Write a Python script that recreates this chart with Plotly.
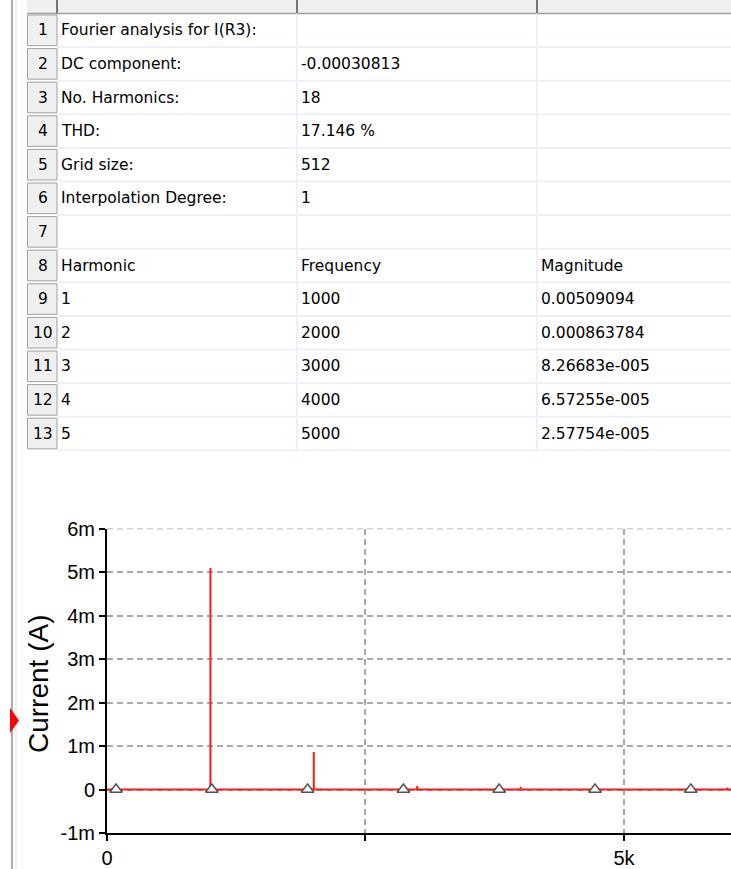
import plotly.graph_objects as go

# ---- Fourier analysis results -------------------------------------------
summary_labels = [
    "Fourier analysis for I(R3):",
    "DC component:",
    "No. Harmonics:",
    "THD:",
    "Grid size:",
    "Interpolation Degree:",
]
summary_values = ["", "-0.00030813", "18", "17.146 %", "512", "1"]
column_titles = ["Harmonic", "Frequency", "Magnitude"]

harmonics = [1, 2, 3, 4, 5]
frequencies = [1000, 2000, 3000, 4000, 5000]
magnitudes = [0.00509094, 0.000863784, 8.26683e-05, 6.57255e-05, 2.57754e-05]

# next harmonic, just at the right edge of the spectrum view
extra_frequencies = [6000]
extra_magnitudes = [4.5e-05]

# trace marker positions along the spectrum (Hz)
marker_freqs = [87, 1014, 1940, 2867, 3793, 4720, 5646]

y_tickvals = [-1e-3, 0, 1e-3, 2e-3, 3e-3, 4e-3, 5e-3, 6e-3]
y_ticktext = ["-1m", "0", "1m", "2m", "3m", "4m", "5m", "6m"]
x_tickvals = [0, 2500, 5000]
x_ticktext = ["0", "", "5k"]
y_title = "Current (A)"

X_MAX = 6035
Y_MIN, Y_MAX = -1e-3, 6e-3

W, H = 731, 869
GRID_COLOR = "#a9a9a9"
GRID_DASH = "6px,4px"
GRID_WIDTH = 1.5


def fx(px):
    return px / W


def fy(py):
    return 1 - py / H


def fmt_mag(v):
    s = f"{v:.6g}"
    if "e" in s:
        mant, exp = s.split("e")
        sign, digits = exp[0], exp[1:].lstrip("0")
        s = f"{mant}e{sign}{digits.zfill(3)}"
    return s


# grid rows: summary, blank, column titles, harmonic rows
rows = [(lab, val, "") for lab, val in zip(summary_labels, summary_values)]
rows.append(("", "", ""))
rows.append(tuple(column_titles))
for h, f, m in zip(harmonics, frequencies, magnitudes):
    rows.append((str(h), str(f), fmt_mag(m)))

# ---- spectrum line: baseline with a vertical line at each harmonic -------
spec_x, spec_y = [0], [0]
for f, m in zip(frequencies + extra_frequencies, magnitudes + extra_magnitudes):
    spec_x += [f, f, f]
    spec_y += [0, m, 0]
spec_x.append(X_MAX + 200)
spec_y.append(0)

fig = go.Figure()
fig.add_trace(go.Scatter(
    x=spec_x, y=spec_y, mode="lines",
    line=dict(color="#ff1a1a", width=2),
    hoverinfo="skip", showlegend=False,
))
fig.add_trace(go.Scatter(
    x=marker_freqs, y=[0] * len(marker_freqs), mode="markers",
    marker=dict(symbol="triangle-up", size=11, color="white",
                line=dict(color="#505050", width=1.4)),
    hoverinfo="skip", showlegend=False,
))

# ---- spreadsheet grid ----------------------------------------------------
HEADER_H = 13.5
ROW_H = 33.6
COL_X = [27, 57, 297, 537, W]
table_bottom = HEADER_H + ROW_H * len(rows)

shapes = []
annotations = []


def line(x0, y0, x1, y1, color, width):
    shapes.append(dict(type="line", xref="paper", yref="paper",
                       x0=fx(x0), y0=fy(y0), x1=fx(x1), y1=fy(y1),
                       line=dict(color=color, width=width)))


def rect(x0, y0, x1, y1, fill, color=None, width=0):
    shapes.append(dict(type="rect", xref="paper", yref="paper",
                       x0=fx(x0), y0=fy(y0), x1=fx(x1), y1=fy(y1),
                       fillcolor=fill,
                       line=dict(color=color or fill, width=width)))


# window frame on the left
line(12, 0, 12, H, "#ababab", 2)
line(16, 0, 16, H, "#e2e2e2", 1)

# column header strip
rect(COL_X[0], 0, W, HEADER_H, "#f0f0f0")
line(COL_X[0], HEADER_H, W, HEADER_H, "#a0a0a0", 1.5)
for cx in COL_X[1:4]:
    line(cx, 0, cx, HEADER_H, "#767676", 2)

# cell grid
for cx in COL_X[2:4]:
    line(cx, HEADER_H, cx, table_bottom, "#ecf0f7", 2)
for i in range(len(rows)):
    top = HEADER_H + i * ROW_H
    bottom = top + ROW_H
    line(COL_X[1], bottom, W, bottom, "#ecf0f7", 2)
    rect(COL_X[0] + 0.5, top + 1.5, COL_X[1], bottom - 1.5,
         "#f0f0f0", "#a0a0a0", 1)

table_font = dict(family="DejaVu Sans", size=15.5, color="#000000")
for i, row in enumerate(rows):
    yc = fy(HEADER_H + (i + 0.5) * ROW_H)
    annotations.append(dict(
        text=str(i + 1), x=fx((COL_X[0] + COL_X[1]) / 2 + 0.5), y=yc,
        xref="paper", yref="paper", xanchor="center", yanchor="middle",
        showarrow=False, font=table_font))
    for j, txt in enumerate(row):
        if not txt:
            continue
        annotations.append(dict(
            text=txt, x=fx(COL_X[j + 1] + 2), y=yc,
            xref="paper", yref="paper", xanchor="left", yanchor="middle",
            showarrow=False, font=table_font))

# y-axis title
annotations.append(dict(
    text=y_title, x=fx(38), y=fy(684), xref="paper", yref="paper",
    xanchor="center", yanchor="middle", textangle=-90, showarrow=False,
    font=dict(family="Liberation Sans", size=28, color="#000000")))

# selected-trace pointer
shapes.append(dict(
    type="path", xref="paper", yref="paper",
    path=f"M{fx(10)},{fy(708)} L{fx(19)},{fy(720.5)} L{fx(10)},{fy(733)} Z",
    fillcolor="#ff0000", line=dict(color="#ff0000", width=0)))

# dashed grid line along the top of the plot (at Y_MAX)
shapes.append(dict(
    type="line", xref="x domain", yref="y", x0=0, x1=1, y0=Y_MAX, y1=Y_MAX,
    line=dict(color=GRID_COLOR, width=GRID_WIDTH, dash=GRID_DASH),
    layer="below"))

axis_font = dict(family="Liberation Sans", size=20, color="#000000")
grid = dict(showgrid=True, gridcolor=GRID_COLOR, gridwidth=GRID_WIDTH,
            griddash=GRID_DASH, zeroline=False, showline=True,
            linecolor="#000000", linewidth=2, ticks="outside", ticklen=6,
            tickcolor="#000000", tickwidth=1.5, tickfont=axis_font,
            automargin=False, fixedrange=True)

fig.update_layout(
    width=W, height=H, autosize=False,
    margin=dict(l=0, r=0, t=0, b=0),
    paper_bgcolor="white", plot_bgcolor="white",
    xaxis=dict(domain=[fx(107), 1], range=[0, X_MAX],
               tickmode="array", tickvals=x_tickvals, ticktext=x_ticktext,
               **grid),
    yaxis=dict(domain=[fy(833), fy(528.5)], range=[Y_MIN, Y_MAX],
               tickmode="array", tickvals=y_tickvals, ticktext=y_ticktext,
               **grid),
    shapes=shapes,
    annotations=annotations,
)

fig.write_html("out.html")
